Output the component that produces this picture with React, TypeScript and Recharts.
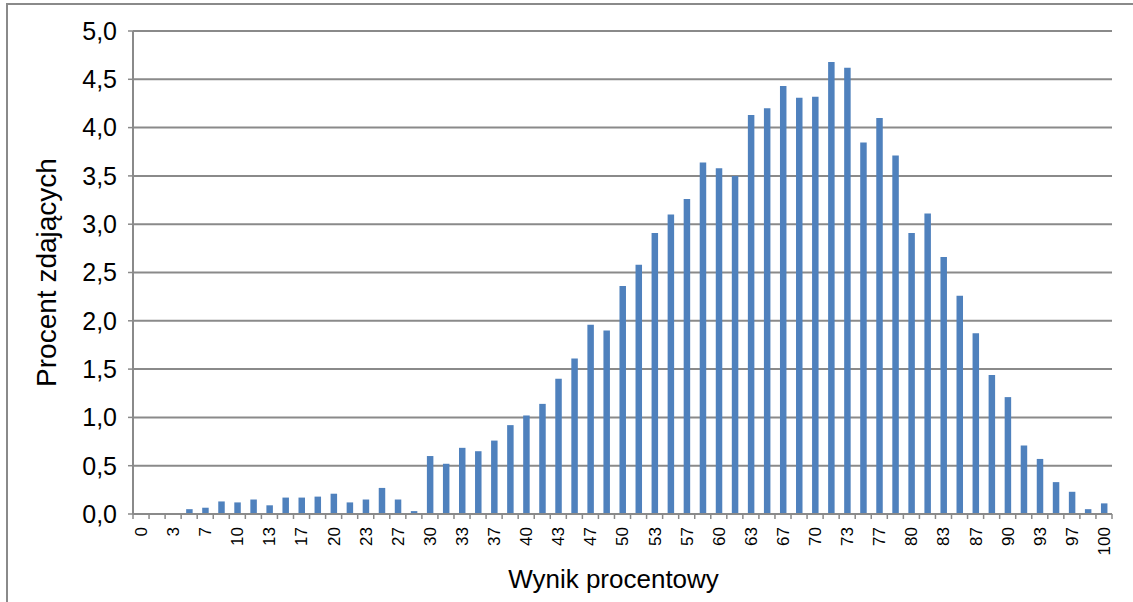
import React from 'react';
import { BarChart, Bar, XAxis, YAxis, CartesianGrid } from 'recharts';

// Score categories (percent of max points, 0..60 points of 60)
const categories = [
  '0', '2', '3', '5', '7', '8', '10', '12', '13', '15', '17', '18', '20', '22', '23', '25',
  '27', '28', '30', '32', '33', '35', '37', '38', '40', '42', '43', '45', '47', '48', '50',
  '52', '53', '55', '57', '58', '60', '62', '63', '65', '67', '68', '70', '72', '73', '75',
  '77', '78', '80', '82', '83', '85', '87', '88', '90', '92', '93', '95', '97', '98', '100',
];

// Percent of students with each score
const percentValues = [
  0, 0, 0.01, 0.05, 0.065, 0.13, 0.12, 0.15, 0.09, 0.17, 0.17, 0.18, 0.21, 0.12, 0.15, 0.27,
  0.15, 0.03, 0.6, 0.52, 0.685, 0.65, 0.76, 0.92, 1.02, 1.14, 1.4, 1.61, 1.96, 1.9, 2.36,
  2.58, 2.91, 3.1, 3.26, 3.64, 3.58, 3.5, 4.13, 4.2, 4.43, 4.31, 4.32, 4.68, 4.62, 3.845,
  4.1, 3.71, 2.91, 3.11, 2.66, 2.26, 1.87, 1.44, 1.21, 0.71, 0.57, 0.33, 0.23, 0.05, 0.11,
];

const yTicks = [0, 0.5, 1, 1.5, 2, 2.5, 3, 3.5, 4, 4.5, 5];

const xAxisTitle = 'Wynik procentowy';
const yAxisTitle = 'Procent zdających';

const data = categories.map((c, i) => ({ category: c, value: percentValues[i] }));

const FONT = '"Liberation Sans", Arial, Helvetica, sans-serif';
const GRAY = '#8a8a8a';
const BAR = '#4F81BD';

function XTick(props: any) {
  const { x, y, payload, index, width } = props;
  const bw = (typeof width === 'number' && width > 0 ? width : 979) / categories.length;
  const left = x - bw / 2;
  const right = x + bw / 2;
  const ty = y + 13;
  return (
    <g>
      <line x1={left} y1={y} x2={left} y2={y + 5} stroke={GRAY} strokeWidth={1.5} />
      {index === categories.length - 1 && (
        <line x1={right} y1={y} x2={right} y2={y + 5} stroke={GRAY} strokeWidth={1.5} />
      )}
      {index % 2 === 0 && (
        <text
          x={x}
          y={ty}
          transform={`rotate(-90 ${x} ${ty})`}
          textAnchor="end"
          dy="0.35em"
          fontSize={17}
          fill="#000"
          fontFamily={FONT}
        >
          {payload.value}
        </text>
      )}
    </g>
  );
}

const fmt = (v: number) => v.toFixed(1).replace('.', ',');

export default function App() {
  return (
    <div style={{ position: 'absolute', left: 0, top: 0, width: 1133, height: 602, background: '#fff' }}>
      <div
        style={{
          position: 'absolute',
          left: 6,
          top: 3,
          width: 1127,
          height: 599,
          boxSizing: 'border-box',
          borderTop: `2px solid ${GRAY}`,
          borderLeft: `2px solid ${GRAY}`,
        }}
      />
      <div style={{ position: 'absolute', left: 0, top: 0 }}>
        <BarChart
          width={1133}
          height={602}
          data={data}
          margin={{ top: 31, right: 21, bottom: 0, left: 0 }}
          barSize={6.5}
        >
          <CartesianGrid vertical={false} stroke={GRAY} strokeWidth={2} />
          <XAxis
            dataKey="category"
            interval={0}
            height={88}
            tickSize={0}
            tickMargin={0}
            tickLine={false}
            axisLine={{ stroke: GRAY, strokeWidth: 2 }}
            tick={<XTick />}
            label={{
              value: xAxisTitle,
              position: 'insideBottom',
              offset: 14,
              dx: -9,
              style: { fontSize: 26, fill: '#000', fontFamily: FONT },
            }}
          />
          <YAxis
            width={133}
            domain={[0, 5]}
            ticks={yTicks}
            tickFormatter={fmt}
            tickSize={5}
            tickMargin={11}
            tickLine={{ stroke: GRAY, strokeWidth: 1.5 }}
            axisLine={{ stroke: GRAY, strokeWidth: 2 }}
            tick={{ fontSize: 25, fill: '#000', fontFamily: FONT }}
            label={{
              value: yAxisTitle,
              angle: -90,
              position: 'insideLeft',
              offset: 46,
              style: { textAnchor: 'middle', fontSize: 28, fill: '#000', fontFamily: FONT },
            }}
          />
          <Bar dataKey="value" fill={BAR} isAnimationActive={false} />
        </BarChart>
      </div>
    </div>
  );
}
